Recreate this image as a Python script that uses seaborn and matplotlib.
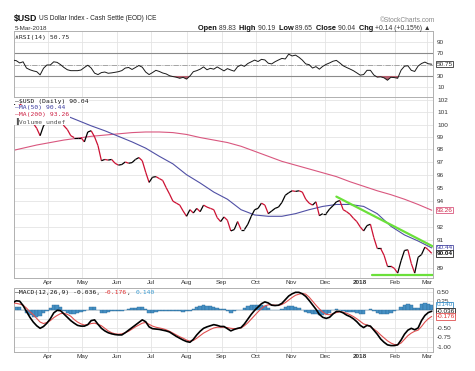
import numpy as np
import pandas as pd
import seaborn as sns
import matplotlib.pyplot as plt
import matplotlib.dates as mdates
from matplotlib.ticker import NullLocator
from matplotlib.collections import LineCollection

# ---- values (3-day sampling) ----
dates = pd.date_range(end='2018-03-05', periods=124, freq='3D')

price = [101.6, 101.8, 101.7, 101.5, 101.0, 100.4, 100.1, 99.7, 99.1, 99.9,
         100.3, 100.5, 101.0, 100.6, 100.4, 99.9, 99.6, 99.1, 98.95, 98.95,
         98.95, 98.6, 99.4, 99.5, 99.0, 98.3, 97.1, 97.2, 97.15, 97.2,
         96.9, 96.75, 96.8, 97.0, 96.9, 96.95, 97.2, 97.35, 97.1, 96.2,
         95.4, 95.8, 95.85, 95.7, 95.55, 95.0, 94.5, 93.95, 93.8, 93.65,
         93.2, 92.8, 93.3, 93.05, 93.4, 93.15, 93.65, 93.5, 93.4, 93.3,
         92.7, 92.4, 92.75, 92.5, 91.7, 91.8, 92.4, 91.8, 91.8, 92.2,
         92.8, 93.3, 93.4, 93.8, 93.65, 93.0, 93.2, 93.4, 93.5, 93.85,
         94.4, 94.6, 94.75, 94.7, 94.75, 94.65, 94.1, 93.8, 93.65, 93.9,
         92.85, 93.0, 93.0, 93.35, 93.6, 93.9, 94.0, 93.3, 93.15, 92.95,
         92.65, 92.4, 92.0, 91.7, 92.1, 92.2, 91.2, 90.4, 90.4, 89.9,
         89.1, 89.1, 88.95, 88.6, 89.5, 90.25, 90.3, 89.3, 88.6, 89.75,
         89.95, 90.5, 90.3, 90.04]

rsi = [58, 57, 53, 55, 44, 41, 39, 37.6, 32, 43.6,
       49.4, 49.4, 55, 54, 50, 45, 41, 39.4, 39.4, 39.4,
       40.5, 45, 49, 44, 35, 32.5, 36, 37, 34.8, 35.5,
       36.5, 37.6, 39.5, 44, 45, 41.5, 45, 48.5, 45.5, 37,
       32.5, 36, 40, 38, 35.3, 33.7, 30.5, 29, 27.8, 26,
       27.6, 24.5, 30, 37.6, 39.4, 42, 46, 41, 43.5, 42,
       46, 42.5, 39, 43, 40.5, 38.5, 46.4, 49.4, 47, 52,
       55, 58, 55.5, 59.3, 58.3, 52.5, 51.3, 55.2, 58.2, 61,
       60, 68.5, 65.3, 66.8, 63, 58, 51.3, 50, 44, 46.5,
       42, 47, 50.5, 53, 56, 57.5, 53, 48, 45, 42.3,
       39.3, 35.5, 31.5, 32.5, 40, 40, 31.8, 28, 28.5, 26.8,
       22.5, 27.7, 27.2, 26, 40.2, 47.3, 48, 40, 38, 47.5,
       52, 54.5, 51.5, 50.75]

macd = [0.2, 0.25, 0.24, 0.12, -0.04, -0.2, -0.33, -0.43, -0.5, -0.45,
        -0.36, -0.24, -0.08, -0.01, -0.02, -0.11, -0.2, -0.29, -0.36, -0.42,
        -0.44, -0.44, -0.4, -0.29, -0.27, -0.39, -0.5, -0.57, -0.62, -0.65,
        -0.67, -0.68, -0.68, -0.62, -0.55, -0.48, -0.41, -0.34, -0.27, -0.32,
        -0.46, -0.51, -0.52, -0.53, -0.55, -0.57, -0.6, -0.66, -0.72, -0.77,
        -0.82, -0.86, -0.88, -0.8, -0.68, -0.58, -0.5, -0.46, -0.43, -0.4,
        -0.42, -0.45, -0.45, -0.51, -0.57, -0.53, -0.5, -0.48, -0.38, -0.25,
        -0.12, -0.01, 0.08, 0.17, 0.22, 0.19, 0.13, 0.12, 0.13, 0.18,
        0.28, 0.38, 0.44, 0.48, 0.48, 0.44, 0.37, 0.26, 0.14, 0.02,
        -0.12, -0.2, -0.23, -0.2, -0.11, -0.04, -0.04, -0.08, -0.14, -0.18,
        -0.24, -0.32, -0.42, -0.48, -0.42, -0.44, -0.55, -0.66, -0.79, -0.88,
        -0.95, -0.97, -0.97, -0.95, -0.82, -0.66, -0.55, -0.5, -0.54, -0.49,
        -0.29, -0.15, -0.07, -0.036]

signal = [0.19, 0.18, 0.16, 0.13, 0.05, -0.05, -0.13, -0.23, -0.33, -0.37,
          -0.34, -0.29, -0.21, -0.15, -0.1, -0.09, -0.12, -0.17, -0.26, -0.33,
          -0.38, -0.41, -0.4, -0.37, -0.36, -0.39, -0.43, -0.5, -0.57, -0.62,
          -0.65, -0.66, -0.65, -0.62, -0.58, -0.52, -0.46, -0.41, -0.36, -0.34,
          -0.39, -0.44, -0.47, -0.49, -0.51, -0.54, -0.58, -0.63, -0.68, -0.73,
          -0.77, -0.82, -0.85, -0.83, -0.77, -0.7, -0.63, -0.58, -0.53, -0.49,
          -0.47, -0.47, -0.47, -0.48, -0.5, -0.51, -0.51, -0.49, -0.43, -0.35,
          -0.25, -0.15, -0.05, 0.04, 0.11, 0.14, 0.14, 0.13, 0.12, 0.15,
          0.2, 0.27, 0.34, 0.4, 0.43, 0.45, 0.43, 0.35, 0.24, 0.13,
          0.03, -0.06, -0.12, -0.13, -0.1, -0.07, -0.05, -0.06, -0.09, -0.13,
          -0.18, -0.24, -0.31, -0.38, -0.41, -0.46, -0.52, -0.59, -0.68, -0.76,
          -0.84, -0.9, -0.94, -0.95, -0.9, -0.8, -0.7, -0.63, -0.58, -0.55,
          -0.45, -0.33, -0.24, -0.176]

# moving averages are smooth, 12-day sampling is enough
ma_dates = pd.date_range(end='2018-03-05', periods=32, freq='12D')
ma50 = [101.3, 101.2, 101.1, 101.0, 100.8, 100.35, 99.9, 99.5, 99.05, 98.6,
        98.1, 97.45, 96.85, 96.0, 95.35, 94.65, 94.1, 93.3, 92.9, 92.8,
        92.8, 93.0, 93.3, 93.55, 93.7, 93.7, 93.55, 93.0, 92.05, 91.4,
        90.95, 90.44]
ma200 = [97.85, 98.1, 98.35, 98.55, 98.75, 98.9, 99.05, 99.15, 99.25, 99.35,
         99.4, 99.4, 99.35, 99.2, 98.95, 98.75, 98.55, 98.25, 97.85, 97.45,
         97.05, 96.75, 96.45, 96.15, 95.85, 95.45, 95.1, 94.75, 94.45, 94.1,
         93.7, 93.26]

# hand drawn green annotation lines
trend_dates = ['2017-12-11', '2018-03-06']
trend_vals = [94.3, 90.55]
floor_dates = ['2018-01-11', '2018-03-06']
floor_vals = [88.5, 88.5]

month_starts = pd.date_range('2017-04-01', '2018-03-01', freq='MS')
month_labels = ['Apr', 'May', 'Jun', 'Jul', 'Aug', 'Sep', 'Oct', 'Nov', 'Dec', '2018', 'Feb', 'Mar']
price_ticks = [89, 90, 91, 92, 93, 94, 95, 96, 97, 98, 99, 100, 101, 102]
price_ticklabels = ['89', '', '91', '92', '', '94', '95', '96', '97', '98', '99', '100', '101', '102']
rsi_ticks = [10, 30, 50, 70, 90]
rsi_ticklabels = ['10', '30', '', '70', '90']
macd_ticks = [-1.0, -0.75, -0.5, -0.25, 0.0, 0.25, 0.5]
macd_ticklabels = ['-1.00', '-0.75', '-0.50', '', '', '0.25', '0.50']

df = pd.DataFrame({'date': dates, 'price': price, 'rsi': rsi, 'macd': macd, 'signal': signal})
df['hist'] = df['macd'] - df['signal']
ma_df = pd.DataFrame({'date': ma_dates, 'ma50': ma50, 'ma200': ma200})

W, H = 475, 371
sns.set_style('white')
plt.rcParams['font.family'] = ['Liberation Sans', 'DejaVu Sans']
MONO = 'DejaVu Sans Mono'

fig = plt.figure(figsize=(W / 100, H / 100), dpi=100)


def panel(top, bottom):
    return fig.add_axes([14 / W, 1 - bottom / H, 419 / W, (bottom - top) / H])


def fx(px):
    return px / W


def fy(py):
    return 1 - py / H


ax_r = panel(31, 96.7)
ax_p = panel(96.7, 277.7)
ax_m = panel(288.3, 351.7)

# ---- RSI panel ----
sns.lineplot(data=df, x='date', y='rsi', ax=ax_r, color='#1a1a1a', lw=0.7, zorder=3)
ax_r.fill_between(df['date'], df['rsi'], 30, where=df['rsi'] < 30, interpolate=True,
                  color='#b4606e', lw=0, zorder=2)
ax_r.axhline(70, color='#8a8a8a', lw=0.8, zorder=1)
ax_r.axhline(30, color='#8a8a8a', lw=0.8, zorder=1)
ax_r.axhline(50, color='#9a9a9a', lw=0.6, ls='-.', zorder=1)
ax_r.set_ylim(-6.5, 109.3)
ax_r.set_yticks(rsi_ticks)
ax_r.set_yticklabels(rsi_ticklabels)

# ---- price panel ----
sns.lineplot(data=ma_df, x='date', y='ma200', ax=ax_p, color='#d9577f', lw=0.8, zorder=2)
sns.lineplot(data=ma_df, x='date', y='ma50', ax=ax_p, color='#5050a5', lw=0.8, zorder=2)

xnum = mdates.date2num(df['date'])
pts = np.column_stack([xnum, df['price']])
segs = np.stack([pts[:-1], pts[1:]], axis=1)
seg_cols = ['black' if b >= a else '#cc1133' for a, b in zip(price[:-1], price[1:])]
ax_p.add_collection(LineCollection(segs, colors=seg_cols, linewidths=0.9, zorder=3))

sns.lineplot(x=pd.to_datetime(trend_dates), y=trend_vals, ax=ax_p, color='#6be03a', lw=1.6, zorder=4)
sns.lineplot(x=pd.to_datetime(floor_dates), y=floor_vals, ax=ax_p, color='#6be03a', lw=1.6, zorder=4)

ax_p.set_yscale('log')
ax_p.set_ylim(88.27, 102.3)
ax_p.set_yticks(price_ticks)
ax_p.set_yticklabels(price_ticklabels)
ax_p.yaxis.set_minor_locator(NullLocator())

# ---- MACD panel ----
ax_m.bar(df['date'], df['hist'], width=3, color='#4590c4', edgecolor='#2d6d9a', lw=0.3, zorder=2)
sns.lineplot(data=df, x='date', y='signal', ax=ax_m, color='#e05050', lw=0.8, zorder=3)
sns.lineplot(data=df, x='date', y='macd', ax=ax_m, color='black', lw=1.2, zorder=4)
ax_m.set_ylim(-1.137, 0.59)
ax_m.set_yticks(macd_ticks)
ax_m.set_yticklabels(macd_ticklabels)

# ---- shared styling ----
x0, x1 = pd.Timestamp('2017-03-02'), pd.Timestamp('2018-03-06 03:00')
for ax in (ax_r, ax_p, ax_m):
    ax.set_xlim(x0, x1)
    ax.set_xlabel('')
    ax.set_ylabel('')
    ax.set_xticks(month_starts)
    if ax is ax_r:
        ax.set_xticklabels([])
    else:
        ax.set_xticklabels(month_labels)
        ax.get_xticklabels()[9].set_fontweight('bold')
    ax.grid(True, color='#e4e4e4', lw=0.6)
    ax.set_axisbelow(True)
    ax.yaxis.tick_right()
    ax.tick_params(axis='both', length=0, labelsize=4.6, labelcolor='#333333')
    ax.tick_params(axis='y', pad=3)
    ax.tick_params(axis='x', pad=1.5)
    for s in ax.spines.values():
        s.set_color('#b0b0b0')
        s.set_linewidth(0.7)


def tag(ax, y, s, ec, tc, bold=False):
    ax.text(1.008, y, s, transform=ax.get_yaxis_transform(), ha='left', va='center',
            fontsize=4.6, color=tc, fontweight='bold' if bold else 'normal',
            bbox=dict(boxstyle='square,pad=0.12', fc='white', ec=ec, lw=0.6),
            zorder=10, clip_on=False)


tag(ax_r, 50.75, '50.75', '#333333', '#333333')
tag(ax_p, 93.26, '93.26', '#d9577f', '#cc2244')
tag(ax_p, 90.44, '90.44', '#5050a5', '#3b3ba0')
tag(ax_p, 90.04, '90.04', '#222222', '#111111', bold=True)
tag(ax_m, 0.14, '0.140', '#3a8fc8', '#3a8fc8')
tag(ax_m, -0.036, '-0.036', '#222222', '#111111')
tag(ax_m, -0.176, '-0.176', '#e05050', '#e03030')

# ---- texts ----
renderer = fig.canvas.get_renderer()


def pieces(x, y, parts, **kw):
    for txt, props in parts:
        t = fig.text(fx(x), fy(y), txt, va='center', ha='left', **kw, **props)
        x += t.get_window_extent(renderer=renderer).width


fig.text(fx(14), fy(18.5), '$USD', fontsize=6.3, fontweight='bold', va='center', color='#111111')
fig.text(fx(39), fy(18.8), 'US Dollar Index - Cash Settle (EOD) ICE', fontsize=4.7, va='center', color='#222222')
fig.text(fx(14.5), fy(28), '5-Mar-2018', fontsize=4.5, va='center', color='#333333')
fig.text(fx(435), fy(20), '\u00a9StockCharts.com', fontsize=4.8, va='center', ha='right', color='#888888')

lab = dict(fontsize=5.3, fontweight='bold', color='#111111')
val = dict(fontsize=4.9, color='#333333')
pieces(198, 28.3, [('Open ', lab), ('89.83  ', val), ('High ', lab), ('90.19  ', val),
                   ('Low ', lab), ('89.65  ', val), ('Close ', lab), ('90.04  ', val),
                   ('Chg ', lab), ('+0.14 (+0.15%) \u25b2', val)])

fig.text(fx(15), fy(37), '\u2227RSI(14) 50.75', fontsize=4.6, family=MONO, va='center', color='#222222')

legend_rows = [('\u2014$USD (Daily) 90.04', '#111111', 101),
               ('\u2014MA(50) 90.44', '#3b3ba0', 107.8),
               ('\u2014MA(200) 93.26', '#cc2244', 114.5),
               ('\u2590Volume undef', '#555555', 121)]
for s, c, y in legend_rows:
    fig.text(fx(15), fy(y), s, fontsize=4.6, family=MONO, va='center', color=c,
             bbox=dict(boxstyle='square,pad=0.1', fc='white', ec='none'), zorder=6)

mono = dict(fontsize=4.6, family=MONO)
pieces(15, 292.5, [('\u2014MACD(12,26,9) -0.036, ', dict(color='#111111', **mono)),
                   ('-0.176', dict(color='#e03030', **mono)),
                   (', ', dict(color='#111111', **mono)),
                   ('0.140', dict(color='#3a9ad0', **mono))])

fig.savefig('out.png', dpi=100)
